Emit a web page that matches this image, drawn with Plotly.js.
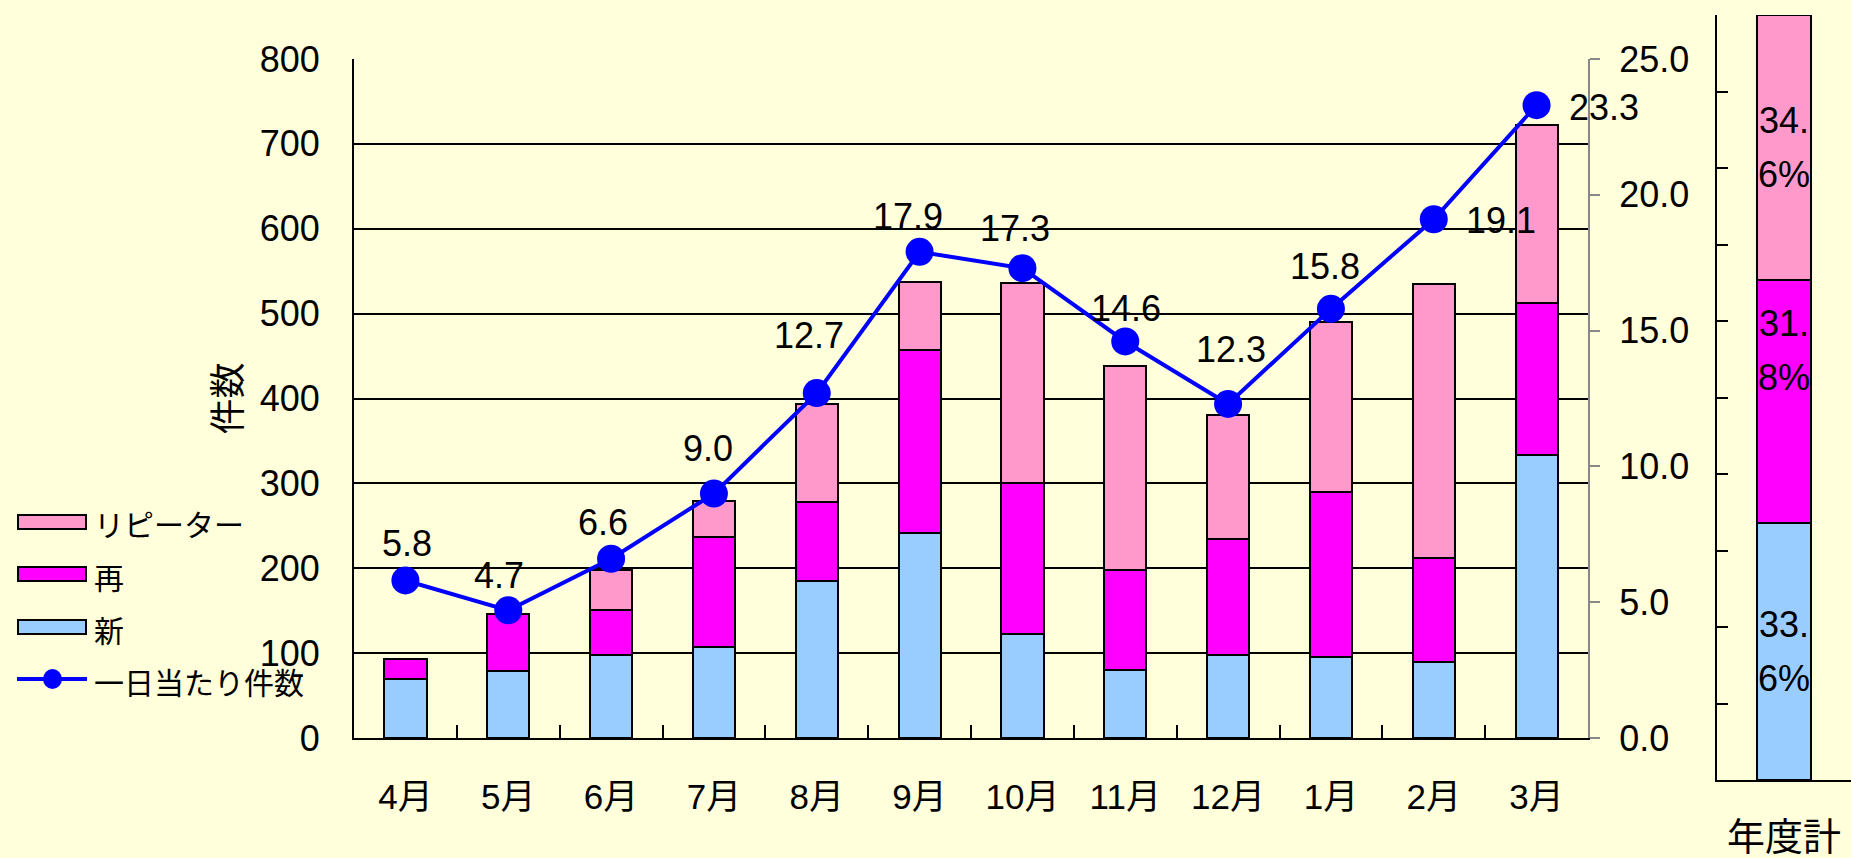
<!DOCTYPE html>
<html><head><meta charset="utf-8">
<script src="https://cdn.plot.ly/plotly-3.0.1.min.js"></script>
<style>html,body{margin:0;padding:0;background:#FFFFDC;} #chart{width:1851px;height:858px;}</style>
</head><body><div id="chart"></div>
<script>
// ---- data ----
const months = ['4月','5月','6月','7月','8月','9月','10月','11月','12月','1月','2月','3月'];
const newCount = [70, 79, 98, 107, 185, 241, 123, 80, 98, 95, 89, 333];
const reCount = [23, 67, 53, 130, 93, 216, 177, 118, 137, 195, 123, 180];
const repeaterCount = [0, 0, 47, 42, 116, 80, 236, 240, 146, 200, 323, 209];
const dailyCount = [5.8, 4.7, 6.6, 9.0, 12.7, 17.9, 17.3, 14.6, 12.3, 15.8, 19.1, 23.3];
const annualCategory = ['年度計'];
const annualNew = [33.6];
const annualRe = [31.8];
const annualRepeater = [34.6];
const nameNew = '新', nameRe = '再', nameRepeater = 'リピーター', nameDaily = '一日当たり件数';
const leftTicks = [0,100,200,300,400,500,600,700,800];
const rightTicks = [0,5,10,15,20,25];

// ---- styles ----
const C_NEW = '#99CCFF', C_RE = '#FF00FF', C_REP = '#FF99CC', C_LINE = '#0000FF';
const BG = '#FFFFDC';
const FONT = '"Liberation Sans", "Noto Sans CJK JP", sans-serif';
// daily label offsets (px) [xshift, yshift]
const labelShift = [[2,37],[-9,35],[-8,36],[-6,45],[-8,58],[-12,35],[-7,40],[1,33],[3,54],[-6,42],[67,-1],[67,-2]];

// geometry helpers (plot area: l=354, r=0, t=15, b=78)
const L = 354, PW = 1851 - L, T = 15, PH = 858 - 78 - T, BOT = 858 - 78;
const fx = p => (p - L) / PW;
const fy = p => (BOT - p) / PH;

const barLine = {color:'#000000', width:2};
const traces = [
  {type:'bar', name:nameNew, x:months, y:newCount, marker:{color:C_NEW, line:barLine}, xaxis:'x', yaxis:'y', showlegend:false},
  {type:'bar', name:nameRe, x:months, y:reCount, marker:{color:C_RE, line:barLine}, xaxis:'x', yaxis:'y', showlegend:false},
  {type:'bar', name:nameRepeater, x:months, y:repeaterCount, marker:{color:C_REP, line:barLine}, xaxis:'x', yaxis:'y', showlegend:false},
  {type:'scatter', mode:'lines+markers', name:nameDaily, x:months, y:dailyCount, xaxis:'x', yaxis:'y2',
   line:{color:C_LINE, width:4}, marker:{color:C_LINE, size:28}, showlegend:false},
  {type:'bar', name:nameNew, x:annualCategory, y:annualNew, marker:{color:C_NEW, line:barLine}, xaxis:'x3', yaxis:'y3', showlegend:false},
  {type:'bar', name:nameRe, x:annualCategory, y:annualRe, marker:{color:C_RE, line:barLine}, xaxis:'x3', yaxis:'y3', showlegend:false},
  {type:'bar', name:nameRepeater, x:annualCategory, y:annualRepeater, marker:{color:C_REP, line:barLine}, xaxis:'x3', yaxis:'y3', showlegend:false}
];

const annotations = [];
dailyCount.forEach((v,i)=>{
  annotations.push({xref:'x', yref:'y2', x:months[i], y:v, text:v.toFixed(1), showarrow:false,
    xshift:labelShift[i][0], yshift:labelShift[i][1], font:{size:36, color:'#000'}});
});
// annual percentage labels, wrapped in two lines like the narrow bar forces
const annualParts = [annualNew[0], annualRe[0], annualRepeater[0]];
const annualShift = [0, 51, 0];
let cum = 0;
annualParts.forEach((v,i)=>{
  const s = v.toFixed(1) + '%'; const k = s.indexOf('.') + 1;
  const lines = [s.slice(0,k), s.slice(k)];
  lines.forEach((t,j)=>{
    annotations.push({xref:'x3', yref:'y3', x:annualCategory[0], y:cum + v/2, text:t, showarrow:false,
      yshift:annualShift[i] + (j === 0 ? 27 : -27), font:{size:36, color:'#000'}});
  });
  cum += v;
});

// custom legend (wide swatches as in the original)
const legendItems = [
  {name:nameRepeater, color:C_REP, kind:'bar', y:522, ty:525},
  {name:nameRe, color:C_RE, kind:'bar', y:574, ty:578},
  {name:nameNew, color:C_NEW, kind:'bar', y:627, ty:631},
  {name:nameDaily, color:C_LINE, kind:'line', y:679, ty:683}
];
const shapes = [];
legendItems.forEach(it=>{
  if (it.kind === 'bar') {
    shapes.push({type:'rect', xref:'paper', yref:'paper', x0:fx(18), x1:fx(86), y0:fy(it.y-7), y1:fy(it.y+7),
      fillcolor:it.color, line:{color:'#000', width:2}});
  } else {
    shapes.push({type:'line', xref:'paper', yref:'paper', x0:fx(17), x1:fx(87), y0:fy(it.y), y1:fy(it.y),
      line:{color:it.color, width:4}});
    shapes.push({type:'circle', xref:'paper', yref:'paper', x0:fx(43), x1:fx(62), y0:fy(it.y-10), y1:fy(it.y+10),
      fillcolor:it.color, line:{color:it.color, width:0}});
  }
  annotations.push({xref:'paper', yref:'paper', x:fx(92), y:fy(it.ty), xanchor:'left', yanchor:'middle',
    text:it.name, showarrow:false, font:{size:30, color:'#000'}});
});

const layout = {
  width:1851, height:858,
  margin:{l:L, r:0, t:T, b:78, pad:0},
  paper_bgcolor:BG, plot_bgcolor:BG,
  font:{family:FONT, size:36, color:'#000'},
  barmode:'stack', bargap:0.59,
  showlegend:false,
  xaxis:{domain:[0, fx(1588)], anchor:'y', type:'category', range:[-0.5, 11.5], showline:true, linecolor:'#000', linewidth:2,
    ticks:'inside', tickson:'boundaries', ticklen:13, tickwidth:2, tickcolor:'#000',
    tickfont:{size:35}, ticklabelstandoff:27, showgrid:false, zeroline:false, fixedrange:true},
  yaxis:{domain:[fy(738), fy(59)], anchor:'x', range:[0,800], tickvals:leftTicks, showgrid:true, gridcolor:'#000', gridwidth:2,
    showline:true, linecolor:'#000', linewidth:2, ticks:'', zeroline:false, tickfont:{size:36},
    ticklabelstandoff:25, title:{text:'件数', font:{size:36}, standoff:7}},
  yaxis2:{overlaying:'y', side:'right', anchor:'x', range:[0,25], tickvals:rightTicks, tickformat:'.1f',
    showgrid:false, zeroline:false, showline:true, linecolor:'#888', linewidth:2,
    ticks:'outside', ticklen:10, tickwidth:2, tickcolor:'#888', tickfont:{size:36}, ticklabelstandoff:12},
  xaxis3:{domain:[fx(1717), 1], anchor:'y3', type:'category', showline:true, linecolor:'#000', linewidth:2,
    ticks:'', showgrid:false, zeroline:false, tickfont:{size:38}, ticklabelstandoff:22},
  yaxis3:{domain:[0,1], anchor:'x3', range:[0,100], dtick:10, tick0:0, showticklabels:false, ticks:'inside', ticklen:11,
    tickwidth:2, tickcolor:'#000', showline:true, linecolor:'#000', linewidth:2, showgrid:false, zeroline:false},
  annotations:annotations,
  shapes:shapes
};
Plotly.newPlot('chart', traces, layout, {staticPlot:true, displayModeBar:false});
</script>
</body></html>
